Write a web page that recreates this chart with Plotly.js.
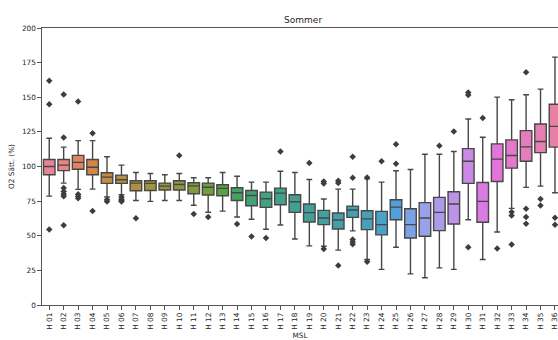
<!DOCTYPE html>
<html>
<head>
<meta charset="utf-8">
<script src="https://cdn.plot.ly/plotly-3.0.1.min.js"></script>
<style>html,body{margin:0;padding:0;overflow:hidden;background:#fff}</style>
</head>
<body>
<div id="chart" style="width:558px;height:340px"></div>
<script>
const categories = ["H 01","H 02","H 03","H 04","H 05","H 06","H 07","H 08","H 09","H 10","H 11","H 12","H 13","H 14","H 15","H 16","H 17","H 18","H 19","H 20","H 21","H 22","H 23","H 24","H 25","H 26","H 27","H 28","H 29","H 30","H 31","H 32","H 33","H 34","H 35","H 36"];
const lowerWhisker = [78.6,88,83.5,83.7,78,79.6,75.5,74.8,75.5,75.5,72,67,67.8,63.5,61.9,54.7,57.8,47.7,42.7,42.4,39.6,53.5,32.9,25.7,41.7,22.5,19.7,26.8,25.7,61.6,32.9,52.7,69.8,84.9,85.8,81];
const q1 = [94,97,98,94,87.8,87.8,82.5,82.7,83,83,80.3,79.4,78.9,75.5,71.7,70.5,72.4,66.9,59.9,58,54.9,63.3,54.4,50.6,61.6,48.4,49.6,53.7,58.5,87.8,59.7,89.2,98.8,103.8,110,114];
const medians = [100,101,103,99.5,92.3,90.4,88,87.8,85.8,87,86,85,84.2,81,79.1,76.7,80.8,74.6,66.7,62.8,61.4,68.6,62.2,58,70.7,58,62.8,66.9,72.9,103.8,74.8,105.3,107.9,114.2,118,129];
const q3 = [105,105,108,105,95.5,93.8,89.7,89.7,88,89.7,88.3,88,86.8,84.7,82.7,81.5,84.4,79.6,72.9,68.3,66.4,71.4,68,67.6,76,69.5,73.9,77.7,81.8,112.9,88.5,116.3,119.2,125.9,130.7,145];
const upperWhisker = [120.4,114,118.7,118.7,107,101,95.7,95,94,95,91.9,91.9,95.7,93,88.7,88.7,96.6,95.7,90.6,76.5,83.7,83.7,91.1,88.7,96.9,97.8,108.8,108.8,110.8,134.3,121.1,150.1,148.2,151.8,155.9,179];
const outliers = [
  [162,145,54.5],
  [152,121,84.4,82,80,78.6,57.5],
  [147,80,78.5,77],
  [124,67.8],
  [76,74.8],
  [78,76.3,75.5,74.8],
  [62.6],
  [],
  [],
  [108],
  [65.7],
  [63.5],
  [],
  [58.5],
  [49.4],
  [48.4],
  [110.8],
  [],
  [102.6],
  [89.2,87.8,40.5],
  [89.7,88,28.6],
  [107,91.9,47.3,45.5,43.9],
  [92,31.2],
  [103.8],
  [116,101.9],
  [],
  [],
  [114.9],
  [125.2],
  [153.5,151.6,41.7],
  [135],
  [40.8],
  [67.1,64.7,43.7],
  [168.1,69.5,63.5,58.7],
  [76.5,71.9],
  [63,58]
];
const yTicks = [0,25,50,75,100,125,150,175,200];

// seaborn "husl" palette, desaturated (boxplot saturation 0.75)
function huslToRgb(h, s, l) {
  const M = [[3.240969941904521,-1.537383177570093,-0.498610760293],
             [-0.96924363628087,1.87596750150772,0.041555057407175],
             [0.055630079696993,-0.20397695888897,1.056971514242878]];
  const kappa = 903.2962962, eps = 0.0088564516, refU = 0.19783000664283, refV = 0.46831999493879;
  function bounds(L) {
    const res = [];
    const sub1 = Math.pow(L + 16, 3) / 1560896;
    const sub2 = sub1 > eps ? sub1 : L / kappa;
    for (let c = 0; c < 3; c++) {
      const [m1, m2, m3] = M[c];
      for (let t = 0; t < 2; t++) {
        const top1 = (284517 * m1 - 94839 * m3) * sub2;
        const top2 = (838422 * m3 + 769860 * m2 + 731718 * m1) * L * sub2 - 769860 * t * L;
        const bottom = (632260 * m3 - 126452 * m2) * sub2 + 126452 * t;
        res.push([top1 / bottom, top2 / bottom]);
      }
    }
    return res;
  }
  function maxChroma(L, H) {
    const hr = H / 360 * Math.PI * 2;
    let mn = Infinity;
    for (const [m, b] of bounds(L)) {
      const len = b / (Math.sin(hr) - m * Math.cos(hr));
      if (len >= 0) mn = Math.min(mn, len);
    }
    return mn;
  }
  const C = maxChroma(l, h) / 100 * s;
  const hr = h / 360 * Math.PI * 2;
  const U = Math.cos(hr) * C, V = Math.sin(hr) * C;
  const varU = U / (13 * l) + refU, varV = V / (13 * l) + refV;
  const Y = l <= 8 ? l / kappa : Math.pow((l + 16) / 116, 3);
  const X = 0 - (9 * Y * varU) / ((varU - 4) * varV - varU * varV);
  const Z = (9 * Y - 15 * varV * Y - varV * X) / (3 * varV);
  return M.map(r => {
    const v = r[0] * X + r[1] * Y + r[2] * Z;
    const g = v <= 0.0031308 ? 12.92 * v : 1.055 * Math.pow(v, 1 / 2.4) - 0.055;
    return Math.min(1, Math.max(0, g));
  });
}
function rgbToHls(r, g, b) {
  const mx = Math.max(r, g, b), mn = Math.min(r, g, b);
  const l = (mx + mn) / 2;
  if (mx === mn) return [0, l, 0];
  const d = mx - mn;
  const s = l <= 0.5 ? d / (mx + mn) : d / (2 - mx - mn);
  let h;
  if (mx === r) h = (g - b) / d + (g < b ? 6 : 0);
  else if (mx === g) h = (b - r) / d + 2;
  else h = (r - g) / d + 4;
  return [h / 6, l, s];
}
function hlsToRgb(h, l, s) {
  if (s === 0) return [l, l, l];
  const q = l < 0.5 ? l * (1 + s) : l + s - l * s;
  const p = 2 * l - q;
  function f(t) {
    if (t < 0) t += 1; if (t > 1) t -= 1;
    if (t < 1 / 6) return p + (q - p) * 6 * t;
    if (t < 1 / 2) return q;
    if (t < 2 / 3) return p + (q - p) * (2 / 3 - t) * 6;
    return p;
  }
  return [f(h + 1 / 3), f(h), f(h - 1 / 3)];
}
const n = categories.length;
const colors = categories.map((_, i) => {
  let hue = (i / n + 0.01) % 1 * 359;
  const rgb = huslToRgb(hue, 90, 65);
  const [hh, ll, ss] = rgbToHls(...rgb);
  const out = hlsToRgb(hh, ll, ss * 0.75);
  return 'rgb(' + out.map(v => Math.round(v * 255)).join(',') + ')';
});

const edge = '#474747';
const traces = categories.map((c, i) => ({
  type: 'box',
  x: [c],
  q1: [q1[i]], median: [medians[i]], q3: [q3[i]],
  lowerfence: [lowerWhisker[i]], upperfence: [upperWhisker[i]],
  width: 0.8,
  whiskerwidth: 0.5,
  fillcolor: colors[i],
  line: {color: edge, width: 1.4},
  boxpoints: false,
  showlegend: false,
  hoverinfo: 'skip'
}));
const ox = [], oy = [];
outliers.forEach((arr, i) => arr.forEach(v => { ox.push(categories[i]); oy.push(v); }));
traces.push({
  type: 'scatter', mode: 'markers', x: ox, y: oy,
  marker: {symbol: 'diamond', size: 5, color: '#3d3d3d'},
  showlegend: false, hoverinfo: 'skip'
});

const font = {family: 'DejaVu Sans, sans-serif', size: 7.3, color: '#262626'};
const layout = {
  width: 558, height: 340,
  margin: {l: 42, r: 0, t: 27.5, b: 35, pad: 0},
  paper_bgcolor: '#fff', plot_bgcolor: '#fff',
  font: font,
  title: {text: 'Sommer', font: {family: 'DejaVu Sans, sans-serif', size: 9, color: '#262626'},
          xref: 'paper', x: 0.506, xanchor: 'center', yref: 'container', y: 1 - 20 / 340, yanchor: 'middle'},
  xaxis: {
    type: 'category', categoryorder: 'array', categoryarray: categories,
    range: [-0.5, -0.5 + 516 / 14.45],
    showgrid: false, zeroline: false,
    showline: true, linecolor: '#555', linewidth: 1.2, mirror: true,
    ticks: 'outside', ticklen: 3.5, tickwidth: 1, tickcolor: '#555',
    tickangle: -90, tickfont: font,
    title: {text: 'MSL', font: font, standoff: 4}
  },
  yaxis: {
    range: [0, 200], tickvals: yTicks, ticktext: yTicks.map(String),
    showgrid: false, zeroline: false,
    showline: true, linecolor: '#555', linewidth: 1.2,
    ticks: 'outside', ticklen: 3.5, tickwidth: 1, tickcolor: '#555',
    tickfont: font,
    title: {text: 'O2 Sätt. (%)', font: font, standoff: 6}
  },
  boxmode: 'overlay'
};
Plotly.newPlot('chart', traces, layout, {staticPlot: true, displayModeBar: false});
</script>
</body>
</html>
